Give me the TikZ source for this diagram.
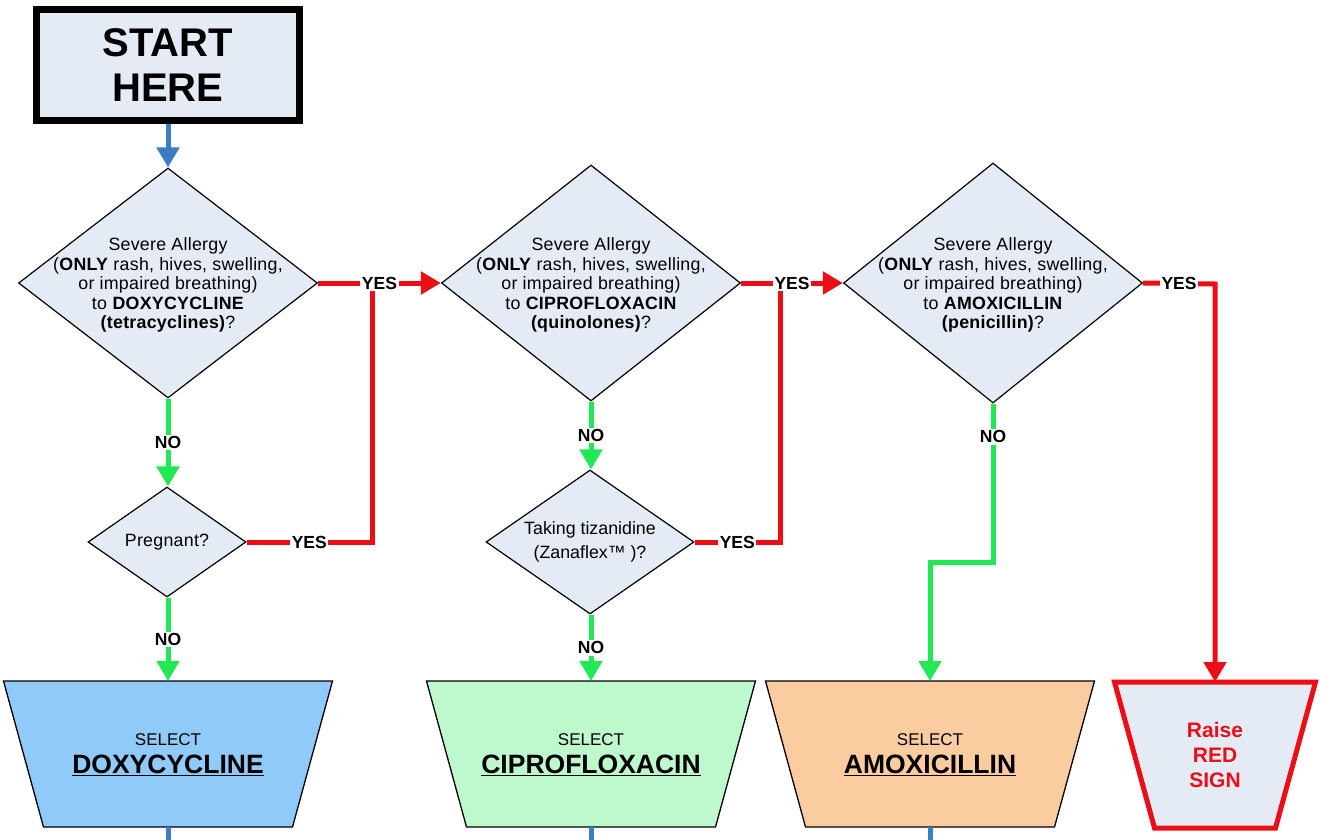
\documentclass[tikz,border=0pt]{standalone}
\usepackage{fontspec}
\setmainfont{Liberation Sans}
\usetikzlibrary{arrows.meta,shapes.geometric,backgrounds}

\definecolor{paleblue}{RGB}{228,235,245}
\definecolor{flowblue}{RGB}{61,125,193}
\definecolor{signred}{RGB}{236,14,22}
\definecolor{gogreen}{RGB}{35,232,85}
\definecolor{doxyfill}{RGB}{144,202,248}
\definecolor{ciprofill}{RGB}{190,248,205}
\definecolor{amoxfill}{RGB}{250,204,160}

\newcommand{\fsz}[2]{\fontsize{#1}{#2}\selectfont}
\newcommand{\ulword}[1]{\setbox0\hbox{#1}\rlap{\rule[-3.4pt]{\wd0}{1.8pt}}\box0}

\begin{document}
\begin{tikzpicture}[x=1pt,y=-1pt,
  startbox/.style={draw=black, line width=7pt, fill=paleblue, minimum width=263pt,
    minimum height=111pt, inner sep=0pt, align=center, font=\bfseries\fsz{40}{45}},
  question/.style={diamond, draw=black, line width=1.2pt, fill=paleblue, inner sep=0pt},
  qtext/.style={align=center, inner sep=0pt, font=\fsz{17.8}{19.6}\addfontfeatures{LetterSpace=1.5}},
  lbl/.style={fill=white, inner sep=1.5pt, font=\bfseries\fsz{17.5}{17.5}},
  yesline/.style={draw=signred, line width=5pt, line join=miter},
  noline/.style={draw=gogreen, line width=5pt, line join=miter},
  flowline/.style={draw=flowblue, line width=5pt},
  tip/.style={-{Triangle[length=20pt,width=22pt]}},
  drugbox/.style={minimum width=329pt, minimum height=146pt, inner sep=0pt, outer sep=0pt},
  signbox/.style={minimum width=201pt, minimum height=146pt, inner sep=0pt, outer sep=0pt,
    align=center, text=signred, font=\bfseries\fsz{21}{25}},
  selword/.style={anchor=base, inner sep=0pt, font=\fsz{17}{17}},
  drugword/.style={anchor=base, inner sep=0pt, font=\bfseries\fsz{26.5}{26.5}},
]
\useasboundingbox (0,0) rectangle (1322,840);

% start
\node[startbox] (start) at (168,65) {START\\HERE};

% questions
\node[question, minimum width=299pt, minimum height=230pt] (d1) at (168,283) {};
\node[qtext] (d1t) at ([yshift=-2pt]d1.center) {Severe Allergy\\(\textbf{ONLY} rash, hives, swelling,\\or impaired breathing)\\to \textbf{DOXYCYCLINE}\\\textbf{(tetracyclines)}?};

\node[question, minimum width=299pt, minimum height=236pt] (d2) at (591,283) {};
\node[qtext] (d2t) at ([yshift=-2pt]d2.center) {Severe Allergy\\(\textbf{ONLY} rash, hives, swelling,\\or impaired breathing)\\to \textbf{CIPROFLOXACIN}\\\textbf{(quinolones)}?};

\node[question, minimum width=299pt, minimum height=240pt] (d3) at (993,283) {};
\node[qtext] (d3t) at ([yshift=-2pt]d3.center) {Severe Allergy\\(\textbf{ONLY} rash, hives, swelling,\\or impaired breathing)\\to \textbf{AMOXICILLIN}\\\textbf{(penicillin)}?};

\node[question, minimum width=158pt, minimum height=110pt] (preg) at (167,542) {};
\node[qtext] (pregt) at (preg.center) {Pregnant?};

\node[question, minimum width=208pt, minimum height=144pt] (tiz) at (590,542) {};
\node[qtext, font=\fsz{17.8}{24}] (tizt) at (tiz.center) {Taking tizanidine\\(Zanaflex™ )?};

% outcomes
\node[drugbox] (doxy) at (168,754) {};
\node[drugbox] (cipro) at (591,754) {};
\node[drugbox] (amox) at (930,754) {};
\node[signbox] (sign) at (1215,755) {};

\begin{scope}[on background layer]
  \fill[white] (0,0) rectangle (1322,840);
  \filldraw[fill=doxyfill, draw=black, line width=1.3pt, line join=miter]
    (doxy.north west) -- (doxy.north east) -- ([xshift=-40pt]doxy.south east) -- ([xshift=40pt]doxy.south west) -- cycle;
  \filldraw[fill=ciprofill, draw=black, line width=1.3pt, line join=miter]
    (cipro.north west) -- (cipro.north east) -- ([xshift=-40pt]cipro.south east) -- ([xshift=40pt]cipro.south west) -- cycle;
  \filldraw[fill=amoxfill, draw=black, line width=1.3pt, line join=miter]
    (amox.north west) -- (amox.north east) -- ([xshift=-40pt]amox.south east) -- ([xshift=40pt]amox.south west) -- cycle;
  \filldraw[fill=paleblue, draw=signred, line width=5pt, line join=miter]
    (sign.north west) -- (sign.north east) -- ([xshift=-40pt]sign.south east) -- ([xshift=40pt]sign.south west) -- cycle;
\end{scope}

\node[selword] (doxysel) at (168,745) {SELECT};
\node[drugword] (doxyname) at (168,773) {\ulword{DOXYCYCLINE}};
\node[selword] (ciprosel) at (591,745) {SELECT};
\node[drugword] (ciproname) at (591,773) {\ulword{CIPROFLOXACIN}};
\node[selword] (amoxsel) at (930,745) {SELECT};
\node[drugword] (amoxname) at (930,773) {\ulword{AMOXICILLIN}};
\node[signbox] (signt) at (sign.center) {Raise\\RED\\SIGN};

% junction points and off-page ends
\coordinate (j1) at (372,284);
\coordinate (j2) at (780,284);
\coordinate (doxyout) at (168,845);
\coordinate (ciproout) at (591,845);
\coordinate (amoxout) at (930,845);

% connectors
\draw[flowline, tip] (start.south) -- (d1.north);

\draw[noline, tip] (d1.south) -- node[lbl] {NO} (preg.north -| d1.south);
\draw[noline, tip] (preg.south -| d1.south) -- node[lbl] {NO} (doxy.north);
\draw[noline, tip] (d2.south) -- node[lbl] {NO} (tiz.north -| d2.south);
\draw[noline, tip] (tiz.south -| d2.south) -- node[lbl] {NO} (cipro.north);
\draw[noline, tip] (d3.south) -- node[lbl, pos=0.21] {NO} (993,562) -- (930,562) -- (amox.north);

\draw[yesline] (preg.east) -- node[lbl] {YES} (372,542) -- (j1);
\draw[yesline] (tiz.east) -- node[lbl] {YES} (780,542) -- (j2);
\draw[yesline, tip] (d1.east) -- node[lbl] {YES} (d2.west);
\draw[yesline, tip] (d2.east) -- node[lbl] {YES} (d3.west);
\draw[yesline, tip] (d3.east) -- node[lbl] {YES} (1215,284) -- (sign.north);

\draw[flowline] (doxy.south) -- (doxyout);
\draw[flowline] (cipro.south) -- (ciproout);
\draw[flowline] (amox.south) -- (amoxout);
\end{tikzpicture}
\end{document}
